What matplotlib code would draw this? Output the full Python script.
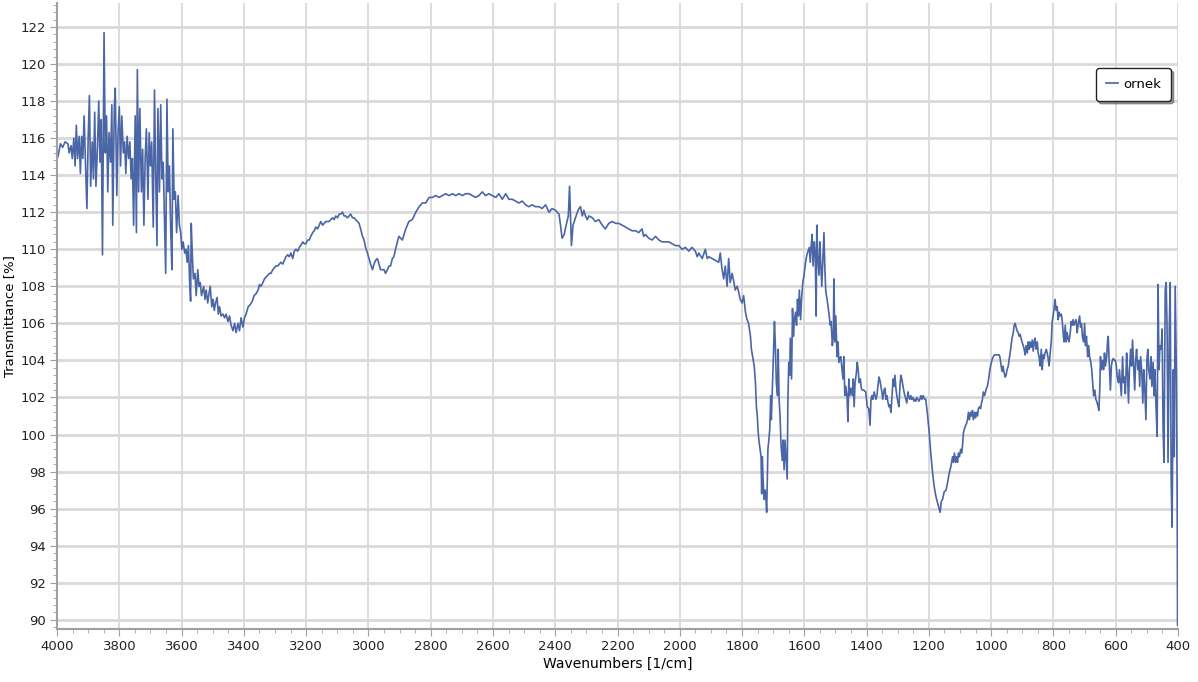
import matplotlib.pyplot as plt
from matplotlib.ticker import MultipleLocator

# IR spectrum (wavenumber in 1/cm, transmittance in %)
wavenumber = [
    3997, 3989, 3982, 3974, 3965, 3961, 3955, 3951, 3946, 3942, 3938, 3934, 3929, 3925,
    3921, 3917, 3913, 3908, 3904, 3900, 3896, 3892, 3887, 3883, 3879, 3875, 3870, 3866,
    3862, 3858, 3854, 3849, 3845, 3841, 3837, 3833, 3828, 3824, 3821, 3816, 3813, 3808,
    3804, 3800, 3796, 3792, 3787, 3783, 3779, 3775, 3770, 3766, 3762, 3758, 3754, 3749,
    3745, 3742, 3738, 3734, 3729, 3725, 3721, 3717, 3713, 3708, 3704, 3700, 3696, 3691,
    3687, 3683, 3679, 3676, 3671, 3667, 3663, 3659, 3655, 3651, 3647, 3643, 3639, 3635,
    3631, 3628, 3624, 3620, 3616, 3611, 3607, 3603, 3599, 3595, 3590, 3586, 3582, 3578,
    3574, 3571, 3569, 3565, 3562, 3557, 3553, 3548, 3544, 3540,
    3536, 3529, 3525, 3521, 3516, 3512, 3508, 3503, 3499, 3495, 3491, 3486, 3482, 3478,
    3473, 3467, 3462, 3457, 3451, 3446, 3441, 3435, 3430, 3425, 3419, 3414, 3409, 3403,
    3398, 3393, 3386, 3380, 3373, 3367, 3361, 3354, 3350, 3345, 3339, 3334, 3329, 3323,
    3318, 3313, 3307, 3302, 3297, 3291, 3286, 3281, 3275, 3270, 3265, 3259, 3254, 3249,
    3243, 3238, 3233, 3227, 3222, 3217, 3211, 3206, 3201, 3195, 3190, 3185, 3179, 3174,
    3169, 3163, 3158, 3153, 3147, 3142, 3137, 3131, 3126, 3121, 3115, 3110, 3105, 3099,
    3094, 3089, 3083, 3078, 3073, 3067, 3062, 3057, 3051, 3046, 3041, 3035, 3030, 3025,
    3019, 3014, 3009, 3003, 2998, 2993, 2987, 2982, 2977, 2971, 2966, 2961, 2955, 2950,
    2945, 2939, 2934, 2929, 2923, 2918, 2913, 2907, 2902,
    2891, 2880, 2870, 2859, 2848, 2837, 2827, 2816, 2805, 2795, 2784, 2773, 2763, 2752,
    2741, 2730, 2720, 2709, 2698, 2688, 2677, 2666, 2656, 2645, 2634, 2624, 2613, 2602,
    2591, 2581, 2570, 2559, 2549, 2538, 2527, 2517, 2506, 2495, 2485, 2474, 2463, 2452,
    2442, 2431, 2420, 2410, 2399, 2388, 2383, 2378, 2371, 2365, 2358, 2354, 2351, 2348,
    2343, 2337, 2329, 2324, 2319, 2313, 2308, 2303, 2297, 2292, 2281, 2271, 2260, 2249,
    2239, 2228, 2217, 2206, 2196, 2185, 2174, 2164, 2153, 2142, 2132, 2121, 2116, 2110,
    2100, 2089, 2078, 2067, 2057, 2046, 2035, 2025, 2014, 2003, 1993, 1982, 1971, 1961,
    1950, 1944, 1939, 1928, 1918, 1912, 1907, 1896, 1886, 1875, 1870, 1864, 1859, 1854,
    1848, 1843, 1838, 1832, 1827, 1822, 1816, 1811, 1806, 1800, 1795, 1789, 1784, 1779,
    1773,
    1770, 1766, 1761, 1757, 1754, 1751, 1749, 1746, 1742, 1739, 1737, 1735, 1732, 1729,
    1726, 1724, 1721, 1717, 1714, 1711, 1708, 1706, 1702, 1699, 1696, 1693, 1690, 1686,
    1684, 1681, 1678, 1675, 1671, 1668, 1665, 1662, 1659, 1655, 1653, 1650, 1647, 1645,
    1641, 1638, 1635, 1632, 1628, 1625, 1622, 1619, 1616, 1612, 1609, 1605, 1601, 1596,
    1592, 1588, 1584, 1581, 1578, 1575, 1572, 1568, 1565, 1562, 1560, 1557, 1553, 1550,
    1547, 1544, 1541, 1537, 1534, 1531, 1527, 1523, 1520, 1517, 1514, 1510, 1507, 1505,
    1502, 1499, 1495, 1492, 1489, 1486, 1483, 1479, 1476, 1473, 1470, 1467, 1463, 1460,
    1457, 1454, 1450, 1446, 1443, 1440, 1437, 1433, 1430, 1427, 1424, 1420, 1417, 1414,
    1409, 1403, 1398, 1393,
    1389, 1386, 1383, 1380, 1376, 1373, 1370, 1367, 1364, 1360, 1357, 1354, 1351, 1348,
    1344, 1341, 1338, 1335, 1331, 1328, 1325, 1322, 1319, 1315, 1312, 1309, 1306, 1303,
    1299, 1296, 1293, 1290, 1287, 1283, 1280, 1277, 1274, 1271, 1267, 1264, 1261, 1258,
    1255, 1251, 1248, 1245, 1242, 1239, 1235, 1232, 1229, 1226, 1222, 1219, 1216, 1213,
    1210, 1204, 1199, 1194, 1188, 1183, 1178, 1172, 1167, 1164, 1160, 1156, 1151, 1145,
    1140, 1135, 1129, 1124, 1121, 1118, 1114, 1111, 1108, 1105, 1102, 1098, 1095, 1092,
    1089, 1086, 1082, 1079, 1076, 1073, 1070, 1066, 1063, 1060, 1057, 1053, 1050, 1047,
    1044, 1041, 1037, 1034, 1031, 1028, 1025, 1021, 1018, 1015, 1012, 1008, 1005, 1002,
    999, 996, 990, 985, 980, 974, 971, 968, 965, 962, 958, 955, 952, 949, 945, 942, 939,
    936, 933, 929, 926, 923, 920, 917, 913, 910, 907, 904, 901, 897, 894, 891, 888, 884,
    881, 878, 875, 872, 868, 865, 862, 859, 856, 852, 849, 846, 843, 839, 836, 833, 830,
    827, 823, 820, 817, 814, 811, 807, 804, 801, 798, 795, 791, 788, 785, 782, 779, 775,
    772, 769, 766, 762, 759, 756, 753, 750, 746, 743, 740, 737, 734, 730, 727, 724, 721,
    716, 713, 710, 707, 703, 700, 697, 694, 690, 687, 684, 680, 677, 674, 671, 667, 664,
    661, 658, 654, 651, 649, 646, 642, 639, 636, 633, 629, 626, 624, 621, 617, 614, 611,
    608, 604, 601, 598, 595, 591, 588, 585, 582, 578, 575, 572, 569, 565, 562, 559, 556,
    552, 549, 546, 542, 539, 536, 533, 529, 526, 523, 520, 516, 513, 510, 507, 503, 500,
    497, 494, 490, 487, 484, 480, 477, 474, 471, 467, 464, 461, 458, 454, 451, 448, 445,
    441, 438, 435, 432, 428, 425, 422, 419, 415, 412, 409, 405, 403, 401, 400,
]

transmittance = [
    115.0, 115.7, 115.5, 115.8, 115.7, 115.2, 115.6, 114.9, 116.0, 114.5, 116.7, 114.9, 116.1, 114.1,
    116.1, 114.9, 117.2, 114.3, 112.2, 116.0, 118.3, 113.4, 115.8, 113.8, 117.4, 113.4, 115.6, 118.0,
    114.7, 117.0, 109.7, 121.7, 115.2, 117.2, 113.1, 116.3, 114.7, 117.8, 111.3, 117.7, 118.7, 112.9,
    116.3, 117.7, 114.5, 117.2, 115.2, 115.8, 114.1, 116.1, 114.9, 115.8, 113.8, 114.9, 111.3, 117.2,
    110.9, 119.7, 113.1, 117.6, 113.1, 115.4, 111.3, 114.9, 116.5, 112.7, 116.3, 114.5, 115.8, 111.2,
    118.6, 114.0, 110.2, 117.6, 113.1, 117.8, 113.8, 114.7, 111.6, 108.7, 118.1, 113.1, 114.5, 111.1,
    108.9, 116.5, 112.7, 113.1, 110.9, 112.9, 111.3, 110.9, 110.0, 110.4, 109.8, 110.0, 109.3, 110.2,
    108.2, 107.2, 111.4, 109.5, 108.4, 108.7, 107.5, 108.9, 108.0, 108.2,
    107.5, 108.0, 107.3, 107.8, 107.1, 107.6, 108.0, 106.9, 107.3, 106.7, 107.1, 107.4, 106.5, 106.9,
    106.4, 106.5, 106.3, 106.5, 106.1, 106.4, 105.9, 105.6, 106.0, 105.5, 106.0, 105.6, 106.3, 105.8,
    106.3, 106.5, 106.9, 107.0, 107.2, 107.5, 107.6, 107.8, 108.1, 108.0, 108.2, 108.4, 108.5, 108.6,
    108.7, 108.7, 108.9, 109.0, 109.1, 109.1, 109.2, 109.3, 109.2, 109.4, 109.6, 109.7, 109.6, 109.8,
    109.5, 109.9, 110.0, 109.9, 110.1, 110.2, 110.4, 110.3, 110.3, 110.5, 110.5, 110.7, 110.9, 111.0,
    111.2, 111.1, 111.3, 111.5, 111.3, 111.4, 111.5, 111.5, 111.5, 111.6, 111.7, 111.6, 111.8, 111.7,
    111.9, 111.9, 112.0, 111.8, 111.8, 111.7, 111.8, 111.9, 111.7, 111.7, 111.6, 111.5, 111.4, 111.1,
    110.7, 110.5, 110.1, 109.8, 109.5, 109.2, 108.9, 109.2, 109.4, 109.5, 109.2, 108.9, 108.9, 108.9,
    108.7, 108.9, 109.1, 109.1, 109.5, 109.6, 110.0, 110.4, 110.7,
    110.5, 111.1, 111.5, 111.6, 112.0, 112.3, 112.5, 112.5, 112.8, 112.8, 112.9, 112.8, 112.9, 113.0,
    112.9, 113.0, 112.9, 113.0, 112.9, 113.0, 113.0, 112.9, 112.8, 112.9, 113.1, 112.9, 113.0, 112.9,
    112.8, 113.0, 112.7, 113.0, 112.7, 112.7, 112.6, 112.5, 112.6, 112.4, 112.3, 112.4, 112.3, 112.3,
    112.2, 112.4, 112.0, 112.2, 112.1, 111.9, 111.3, 110.6, 110.8, 111.3, 111.8, 113.4, 111.8, 110.2,
    111.3, 111.6, 112.0, 112.2, 112.3, 111.8, 112.1, 111.8, 111.6, 111.8, 111.7, 111.5, 111.6, 111.3,
    111.1, 111.4, 111.5, 111.4, 111.4, 111.3, 111.2, 111.1, 111.0, 111.0, 110.9, 111.1, 110.7, 110.8,
    110.6, 110.5, 110.7, 110.5, 110.4, 110.4, 110.4, 110.3, 110.2, 110.2, 110.0, 110.1, 109.9, 110.1,
    109.9, 109.6, 109.8, 109.5, 110.0, 109.5, 109.6, 109.5, 109.4, 109.3, 109.8, 108.9, 108.4, 109.1,
    108.0, 109.5, 108.2, 108.7, 108.3, 107.8, 108.0, 107.7, 107.3, 107.1, 107.5, 106.6, 106.2, 106.0,
    105.3,
    104.6, 104.2, 103.7, 102.8, 101.5, 101.0, 100.3, 99.7, 99.2, 98.8, 96.8, 98.8, 97.4, 96.5,
    97.0, 96.7, 95.8, 99.2, 99.7, 100.3, 102.1, 100.8, 102.8, 104.4, 106.1, 104.8, 102.8, 102.1,
    104.6, 101.9, 101.0, 99.5, 98.6, 99.7, 98.1, 99.7, 98.8, 97.6, 101.7, 103.9, 103.2, 105.2,
    103.0, 106.8, 105.3, 106.2, 106.6, 105.9, 107.3, 106.4, 107.8, 106.2, 107.3, 108.2, 108.6, 109.3,
    109.7, 109.9, 110.1, 109.3, 110.2, 110.8, 109.1, 110.4, 109.7, 106.4, 111.3, 109.7, 108.6, 110.4,
    109.1, 108.0, 109.3, 110.9, 108.9, 107.7, 107.3, 106.8, 106.4, 105.9, 106.1, 104.8, 105.3, 108.4,
    105.0, 106.4, 104.2, 105.0, 103.9, 104.1, 104.2, 103.5, 103.0, 104.2, 102.1, 102.6, 102.1, 100.7,
    103.0, 102.1, 102.5, 102.1, 103.0, 101.5, 102.8, 103.3, 103.9, 103.5, 102.8, 103.0, 102.5, 102.4,
    102.4, 102.3, 101.5, 101.4,
    100.5, 101.9, 102.1, 101.9, 102.3, 102.1, 101.9, 102.1, 102.6, 103.1, 102.9, 102.6, 102.3, 101.9,
    102.4, 102.5, 101.9, 102.1, 101.7, 101.5, 101.6, 101.2, 101.9, 103.0, 102.6, 103.2, 102.5, 102.1,
    101.7, 101.5, 102.6, 103.2, 103.0, 102.6, 102.3, 102.1, 101.9, 101.7, 102.3, 102.0, 101.9, 102.1,
    101.9, 102.0, 101.8, 101.9, 101.8, 102.0, 101.9, 101.8, 101.9, 102.1, 101.9, 102.1, 102.0, 101.9,
    101.9, 101.0, 100.1, 99.0, 97.9, 97.2, 96.7, 96.3, 96.0, 95.8, 96.4, 96.5, 96.9, 97.0,
    97.4, 97.9, 98.3, 98.8, 98.5, 99.0, 98.5, 98.8, 98.5, 99.0, 98.8, 99.2, 99.0, 99.4,
    100.1, 100.3, 100.5, 100.6, 100.8, 101.2, 100.8, 101.2, 101.0, 101.3, 100.8, 101.2, 100.9, 101.2,
    101.0, 101.4, 101.5, 101.4, 101.7, 101.9, 102.3, 102.1, 102.3, 102.5, 102.6, 103.0, 103.4, 103.7,
    103.9, 104.1, 104.3, 104.3, 104.3, 104.3, 104.1, 103.7, 103.4, 103.7, 103.3, 103.1, 103.2, 103.5,
    103.7, 104.1, 104.4, 104.8, 105.2, 105.5, 105.9, 106.0, 105.8, 105.6, 105.5, 105.3, 105.4, 105.2,
    105.0, 104.8, 104.6, 104.3, 104.8, 104.4, 105.0, 104.6, 105.0, 104.7, 105.1, 104.5, 105.0, 105.2,
    104.6, 105.0, 104.4, 104.2, 103.7, 104.6, 103.5, 104.3, 104.1, 104.4, 104.6, 104.4, 104.1, 103.7,
    104.3, 105.0, 106.1, 106.4, 106.8, 107.3, 106.7, 106.9, 106.2, 106.6, 106.4, 106.5, 106.2, 105.5,
    105.0, 105.9, 105.0, 105.5, 105.2, 105.0, 105.5, 106.1, 105.9, 106.2, 105.9, 106.1, 106.2, 105.5,
    105.9,
    106.4, 105.8, 106.0, 105.3, 105.0, 106.0, 104.8, 105.3, 104.2, 104.8, 104.2, 103.9, 103.5, 102.8,
    102.1, 102.4, 101.9, 101.8, 101.6, 101.3, 102.6, 104.2, 103.5, 104.0, 103.5, 104.4, 103.7, 104.2,
    105.1, 105.3, 103.9, 102.4, 103.7, 104.0, 104.1, 104.0, 104.0, 103.7, 103.1, 102.8, 103.5, 102.8,
    102.1, 104.2, 102.8, 103.1, 102.2, 104.4, 103.3, 101.7, 103.5, 104.6, 103.7, 105.1, 103.5, 102.4,
    104.0, 104.6, 103.5, 104.0, 102.6, 104.2, 103.3, 101.7, 103.5, 102.6, 100.8, 104.0, 104.6, 103.5,
    103.0, 104.2, 102.6, 103.9, 102.1, 103.5, 101.7, 99.9, 108.1, 103.5, 104.8, 104.6, 105.7, 100.4,
    98.5, 107.8, 108.2, 105.7, 98.5, 105.7, 108.2, 97.7, 95.0, 103.5, 98.8, 108.0, 103.1, 97.4,
    89.7, 97.6,
]

fig = plt.figure(figsize=(11.98, 6.82), dpi=100)
ax = fig.add_axes([0.0476, 0.0777, 0.9357, 0.918])

ax.plot(wavenumber, transmittance, color='#4a66a6', linewidth=1.2, label='ornek')

ax.set_xlim(4000, 400)
ax.set_ylim(89.5, 123.3)
ax.xaxis.set_major_locator(MultipleLocator(200))
ax.xaxis.set_minor_locator(MultipleLocator(50))
ax.yaxis.set_major_locator(MultipleLocator(2))
ax.yaxis.set_minor_locator(MultipleLocator(0.4))

ax.grid(True, axis='y', which='major', color='#d9d9d9', linewidth=2.0)
ax.grid(True, axis='x', which='major', color='#d9d9d9', linewidth=1.3)
ax.set_axisbelow(True)

for side in ['top', 'right']:
    ax.spines[side].set_visible(False)
for side in ['left', 'bottom']:
    ax.spines[side].set_color('#a0a0a0')
    ax.spines[side].set_linewidth(1.5)

ax.tick_params(axis='both', which='major', length=5, color='#a0a0a0', labelsize=9.5, pad=3)
ax.tick_params(axis='both', which='minor', length=3, color='#a0a0a0')
for lbl in ax.get_xticklabels() + ax.get_yticklabels():
    lbl.set_color('#222222')

ax.set_xlabel('Wavenumbers [1/cm]', fontsize=10, labelpad=3)
ax.set_ylabel('Transmittance [%]', fontsize=9.5)
ax.yaxis.set_label_coords(-0.037, 0.5)

# Legend box in the upper right, with a drop shadow
leg = ax.legend(loc='upper right', bbox_to_anchor=(0.996, 0.9), fontsize=9.5,
                handlelength=0.9, handletextpad=0.4, borderpad=0.75, borderaxespad=0.2,
                shadow=True, fancybox=True, framealpha=1)
leg.get_frame().set_edgecolor('#222222')
leg.get_frame().set_linewidth(1.0)

fig.savefig('out.png', dpi=100)
